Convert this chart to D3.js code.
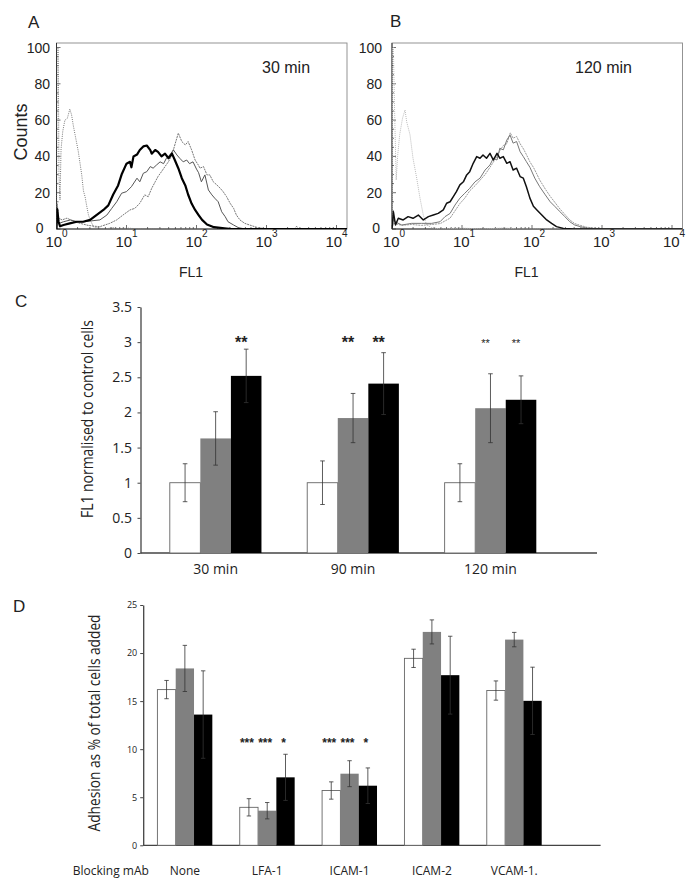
<!DOCTYPE html>
<html><head><meta charset="utf-8">
<script src="https://cdn.jsdelivr.net/npm/d3@7"></script>
<style>body{margin:0;background:#fff} svg{display:block;background:#fff}</style>
</head><body><svg id="c" width="695" height="887"></svg>
<script>
// ---------- Panel A / B : FACS histograms (x = log10 FL1, y = counts) ----------
const histYTicks = [0, 20, 40, 60, 80, 100];
const histXTicks = [0, 1, 2, 3, 4];

const aIsotype = [[0,0],[0.01,100],[0.025,100],[0.035,30],[0.05,16],[0.065,44],[0.09,54],[0.12,60],[0.155,61],[0.19,66],[0.215,63],[0.24,57],[0.265,52],[0.31,43],[0.36,30],[0.385,21],[0.41,17.5],[0.43,13],[0.455,8],[0.48,5],[0.53,1.2],[0.6,0.5],[0.7,0],[0.8,0.8],[0.9,0],[1.0,0.5],[1.2,0],[4.15,0]];
const aBlack = [[0,0],[0.01,11],[0.03,4],[0.05,1.5],[0.1,2.2],[0.19,3.1],[0.29,4],[0.38,4],[0.48,5],[0.57,7.7],[0.67,10.5],[0.74,13],[0.81,19],[0.88,24],[0.93,30],[1.0,36],[1.05,37],[1.07,34],[1.1,40],[1.15,41],[1.19,43.5],[1.24,45.5],[1.29,46],[1.34,43.5],[1.36,41.5],[1.41,43.5],[1.45,42.5],[1.5,40],[1.55,41.5],[1.6,39],[1.65,41.5],[1.69,38],[1.74,33.5],[1.79,28],[1.84,24],[1.88,19],[1.93,14],[1.98,10.5],[2.03,7.7],[2.08,5],[2.15,2.5],[2.25,1],[2.4,0.4],[2.5,0],[4.15,0]];
const aGray = [[0,0],[0.01,8],[0.03,3],[0.1,4],[0.2,5],[0.3,4],[0.4,4],[0.5,4.5],[0.62,5],[0.72,7.7],[0.79,11.4],[0.86,15],[0.93,19.7],[1.0,20.6],[1.07,23.3],[1.15,28],[1.19,26],[1.24,30.7],[1.29,31.6],[1.34,34.4],[1.38,33.5],[1.43,35.3],[1.48,37],[1.53,36],[1.57,39],[1.62,40.8],[1.67,43.6],[1.72,40.8],[1.76,39],[1.81,37],[1.86,38],[1.9,36],[1.95,37],[2.0,33],[2.03,31],[2.07,26],[2.12,29.8],[2.17,21.5],[2.22,18.8],[2.26,17],[2.31,15],[2.36,9.5],[2.41,6.8],[2.45,4],[2.53,2.2],[2.6,0.7],[2.7,0],[4.15,0]];
const aDashed = [[0,0],[0.01,14],[0.03,6],[0.08,5],[0.15,6],[0.25,4],[0.35,3],[0.45,2],[0.55,1.5],[0.62,1.3],[0.76,3.1],[0.86,5],[0.95,7.7],[1.05,10.5],[1.12,11.4],[1.19,14.2],[1.26,18.8],[1.31,17.8],[1.36,22.4],[1.41,26],[1.45,28.9],[1.5,31.6],[1.55,34.4],[1.6,37.1],[1.65,40.8],[1.69,46.3],[1.74,52.8],[1.79,48.2],[1.84,46.3],[1.88,48.2],[1.93,43.6],[1.98,38],[2.03,35],[2.05,33.5],[2.1,34.4],[2.15,29.8],[2.19,29.8],[2.24,26],[2.29,24.3],[2.34,22.4],[2.38,20.6],[2.43,17.8],[2.48,14.2],[2.53,11.4],[2.57,7.7],[2.62,5],[2.69,3.1],[2.79,1.8],[2.88,0.7],[3.0,0],[3.4,0],[3.43,1.5],[3.46,0],[4.15,0]];

const bIsotype = [[0,0],[0.005,100],[0.02,100],[0.04,60],[0.06,27],[0.08,40],[0.11,52],[0.15,61],[0.186,65.6],[0.21,59],[0.257,52],[0.3,39],[0.353,28],[0.4,17],[0.447,7.7],[0.495,2.2],[0.57,0.7],[0.7,0],[1.0,0.5],[1.3,0],[1.6,0.6],[1.8,0],[4.15,0]];
const bBlack = [[0,0],[0.02,9.5],[0.05,2.2],[0.09,5.9],[0.16,5],[0.23,6.8],[0.3,5.9],[0.376,7.7],[0.447,5],[0.52,6.8],[0.59,7.7],[0.66,8.6],[0.733,10.5],[0.78,14.2],[0.83,15],[0.876,17.8],[0.92,20.6],[0.97,24.3],[1.02,26],[1.067,29.8],[1.11,31.6],[1.16,36.2],[1.21,39.9],[1.257,39],[1.3,40.8],[1.35,39],[1.4,41.7],[1.447,38],[1.5,41.7],[1.54,39],[1.59,39.9],[1.64,36.2],[1.686,37.1],[1.73,32.5],[1.78,33.5],[1.83,28.9],[1.876,28],[1.92,23.3],[1.97,17],[2.02,12.5],[2.07,10.5],[2.14,7.7],[2.21,5],[2.28,3.1],[2.35,1.3],[2.45,0.3],[2.6,0],[4.15,0]];
const bGray = [[0,0],[0.02,5],[0.043,4],[0.14,2.2],[0.28,3.1],[0.42,3.1],[0.567,3.1],[0.686,4],[0.757,6.8],[0.83,8.6],[0.9,13.2],[0.97,17],[1.04,19.7],[1.11,22.4],[1.186,26],[1.257,28],[1.33,32.5],[1.4,35.3],[1.447,39],[1.5,38],[1.54,44.5],[1.59,43.6],[1.64,49],[1.686,51.8],[1.73,47.3],[1.78,48.2],[1.83,42.6],[1.876,39.9],[1.92,37.1],[1.97,34],[2.04,28],[2.11,23.3],[2.19,18.8],[2.26,15],[2.33,12.3],[2.4,9.5],[2.47,6.8],[2.54,4],[2.61,2.2],[2.69,1.3],[2.78,0.5],[2.9,0],[4.15,0]];
const bLight = [[0,0],[0.02,3],[0.043,3],[0.14,2],[0.28,2.5],[0.42,2],[0.57,2.5],[0.69,3],[0.76,4.5],[0.83,6],[0.9,10],[0.97,14],[1.04,17],[1.11,21],[1.19,24],[1.26,27],[1.33,30],[1.4,34],[1.45,37],[1.5,40],[1.54,43],[1.59,46],[1.64,47],[1.69,53],[1.73,50],[1.78,51],[1.83,47],[1.88,44],[1.92,41],[1.97,37],[2.02,34],[2.06,31],[2.11,27],[2.19,22],[2.26,18],[2.33,14.5],[2.4,11],[2.47,8],[2.54,5],[2.61,3],[2.69,2],[2.78,1],[2.9,0.5],[3.0,0],[4.15,0]];

// ---------- Panel C ----------
const cGroups = ["30 min", "90 min", "120 min"];
const cWhite = [1.0, 1.0, 1.0];
const cWhiteErr = [0.27, 0.31, 0.27];
const cGray = [1.63, 1.92, 2.06];
const cGrayErr = [0.38, 0.35, 0.49];
const cBlack = [2.52, 2.41, 2.18];
const cBlackErr = [0.38, 0.44, 0.34];
const cStars = [["", "", "**"], ["", "**", "**"], ["", "**", "**"]];
const cYTicks = [0, 0.5, 1, 1.5, 2, 2.5, 3, 3.5];

// ---------- Panel D ----------
const dGroups = ["None", "LFA-1", "ICAM-1", "ICAM-2", "VCAM-1."];
const dWhite = [16.2, 3.95, 5.7, 19.45, 16.1];
const dWhiteErr = [0.95, 0.9, 0.9, 0.95, 1.0];
const dGray = [18.4, 3.6, 7.45, 22.2, 21.4];
const dGrayErr = [2.4, 0.85, 1.35, 1.25, 0.75];
const dBlack = [13.6, 7.07, 6.2, 17.7, 15.03];
const dBlackErr = [4.55, 2.4, 1.85, 4.05, 3.5];
const dStars = [["", "", ""], ["***", "***", "*"], ["***", "***", "*"], ["", "", ""], ["", "", ""]];
const dYTicks = [0, 5, 10, 15, 20, 25];

const svg = d3.select("#c");
const SANS = "'Liberation Sans', Arial, sans-serif";
const OPEN = "'Open Sans', 'Noto Sans', sans-serif";

function letter(t, x, y) {
  svg.append("text").attr("x", x).attr("y", y).text(t)
    .attr("font-family", SANS).attr("font-size", 17).attr("fill", "#222");
}

function drawHist(cfg) {
  const g = svg.append("g");
  const xMax = 4.15;
  const x = d3.scaleLinear().domain([0, xMax]).range([cfg.left, cfg.left + 290.5]);
  const y = d3.scaleLinear().domain([0, 100]).range([229, 47.5]);
  const top = 43, bottom = 229;
  const id = "clip" + cfg.letter;
  svg.append("clipPath").attr("id", id).append("rect")
    .attr("x", x(0)).attr("y", top - 1).attr("width", x(xMax) - x(0)).attr("height", bottom - top + 1);

  g.append("rect").attr("x", x(0)).attr("y", top).attr("width", x(xMax) - x(0)).attr("height", bottom - top)
    .attr("fill", "none").attr("stroke", "#888").attr("stroke-width", 0.9);
  g.append("line").attr("x1", x(0)).attr("x2", x(0)).attr("y1", top).attr("y2", bottom).attr("stroke", "#333").attr("stroke-width", 1);
  g.append("line").attr("x1", x(0)).attr("x2", x(xMax)).attr("y1", bottom).attr("y2", bottom).attr("stroke", "#333").attr("stroke-width", 1);

  d3.range(0, 101, 5).forEach(v => {
    g.append("line").attr("x1", x(0)).attr("x2", x(0) + (v % 20 === 0 ? 4 : 2))
      .attr("y1", y(v)).attr("y2", y(v)).attr("stroke", "#333").attr("stroke-width", 0.7);
  });
  histYTicks.forEach(v => {
    g.append("text").attr("x", x(0) - (v === 0 ? cfg.zeroGap : cfg.yGap)).attr("y", y(v)).attr("dy", v === 0 ? "0.3em" : "0.36em")
      .attr("text-anchor", "end").attr("font-family", SANS).attr("font-size", 14).attr("fill", "#222").text(v);
  });
  for (let k = 0; k < 5; k++) {
    for (let m = 1; m <= 9; m++) {
      const e = k + Math.log10(m);
      if (e > xMax) continue;
      g.append("line").attr("x1", x(e)).attr("x2", x(e)).attr("y1", bottom).attr("y2", bottom - (m === 1 ? 4 : 2))
        .attr("stroke", "#333").attr("stroke-width", 0.7);
    }
  }
  histXTicks.forEach(k => {
    const t = g.append("text").attr("x", x(k) + cfg.xLabShift).attr("y", 246.5).attr("text-anchor", "middle")
      .attr("font-family", SANS).attr("font-size", 15).attr("fill", "#222");
    t.append("tspan").text("10");
    t.append("tspan").attr("dy", -10).attr("font-size", 10).text(k);
  });
  g.append("text").attr("x", cfg.left + 134.5).attr("y", 277).attr("text-anchor", "middle")
    .attr("font-family", SANS).attr("font-size", 14).attr("fill", "#222").text("FL1");
  g.append("text").attr("x", cfg.timeX).attr("y", 73)
    .attr("font-family", SANS).attr("font-size", 16).attr("fill", "#222").text(cfg.time);

  const line = d3.line().x(d => x(d[0])).y(d => y(d[1]));
  const cg = g.append("g").attr("clip-path", `url(#${id})`);
  cfg.curves.forEach(c => {
    cg.append("path").datum(c.data).attr("d", line).attr("fill", "none")
      .attr("stroke", c.color).attr("stroke-width", c.width)
      .attr("stroke-dasharray", c.dash || null).attr("stroke-linejoin", "round");
  });
}

letter("A", 28, 28);
drawHist({
  letter: "A", left: 56.5, yGap: 6.5, zeroGap: 13, xLabShift: 0, time: "30 min", timeX: 262,
  curves: [
    { data: aIsotype, color: "#777", width: 1, dash: "1,1.2" },
    { data: aDashed, color: "#777", width: 1, dash: "2,0.8" },
    { data: aGray, color: "#555", width: 1 },
    { data: aBlack, color: "#000", width: 2.2 }
  ]
});
svg.append("text").attr("transform", "translate(27,132) rotate(-90)").attr("text-anchor", "middle")
  .attr("font-family", SANS).attr("font-size", 18).attr("fill", "#222").text("Counts");

letter("B", 390, 27);
drawHist({
  letter: "B", left: 392, yGap: 10, zeroGap: 12, xLabShift: 2, time: "120 min", timeX: 575,
  curves: [
    { data: bIsotype, color: "#bbb", width: 1, dash: "1,1" },
    { data: bLight, color: "#999", width: 1, dash: "2,0.8" },
    { data: bGray, color: "#777", width: 1 },
    { data: bBlack, color: "#111", width: 1.5 }
  ]
});

function drawBars(cfg) {
  const g = svg.append("g");
  const series = ["white", "gray", "black"];
  const fills = { white: "#fff", gray: "#808080", black: "#000" };
  const x0 = d3.scaleBand().domain(cfg.groups).range(cfg.bandRange).paddingInner(0.333).paddingOuter(0);
  const x1 = d3.scaleBand().domain(series).range([0, x0.bandwidth()]);
  const y = d3.scaleLinear().domain(cfg.yDomain).range(cfg.yRange);

  const ax = g.append("g").attr("transform", `translate(${cfg.axisX},0)`)
    .call(d3.axisLeft(y).tickValues(cfg.yTicks).tickSize(3).tickSizeOuter(0).tickPadding(cfg.tickPad).tickFormat(d => String(d)));
  ax.select(".domain").attr("stroke", "#444").attr("stroke-width", 1.3);
  ax.selectAll(".tick line").attr("stroke", "#444");
  ax.selectAll("text").attr("font-family", OPEN).attr("font-size", cfg.tickFont).attr("fill", "#222");

  g.append("line").attr("x1", cfg.axisX).attr("x2", cfg.axisEnd).attr("y1", y(0)).attr("y2", y(0))
    .attr("stroke", "#444").attr("stroke-width", 1.3);

  series.forEach((s, si) => {
    const vals = cfg.values[si], errs = cfg.errs[si];
    cfg.groups.forEach((grp, gi) => {
      const bx = x0(grp) + x1(s), bw = x1.bandwidth(), cx = bx + bw / 2;
      g.append("rect").attr("x", bx).attr("y", y(vals[gi])).attr("width", bw).attr("height", y(0) - y(vals[gi]))
        .attr("fill", fills[s]).attr("stroke", s === "white" ? "#666" : fills[s]).attr("stroke-width", s === "white" ? 0.9 : 0);
      const hi = y(vals[gi] + errs[gi]), lo = y(vals[gi] - errs[gi]);
      const ec = "#333";
      g.append("line").attr("x1", cx).attr("x2", cx).attr("y1", hi).attr("y2", lo).attr("stroke", ec).attr("stroke-width", 0.8);
      [hi, lo].forEach(yy => g.append("line").attr("x1", cx - cfg.cap).attr("x2", cx + cfg.cap).attr("y1", yy).attr("y2", yy)
        .attr("stroke", ec).attr("stroke-width", 0.8));
      const st = cfg.stars[gi][si];
      if (st) {
        const sty = cfg.starStyle(gi);
        g.append("text").attr("x", cx + cfg.starShift).attr("y", sty.y).attr("text-anchor", "middle")
          .attr("font-family", SANS).attr("font-weight", sty.weight).attr("font-size", sty.size).attr("fill", "#222").text(st);
      }
    });
  });

  cfg.groups.forEach(grp => {
    g.append("text").attr("x", x0(grp) + x0.bandwidth() / 2).attr("y", cfg.labelY).attr("text-anchor", "middle")
      .attr("font-family", OPEN).attr("font-size", cfg.labelFont).attr("fill", "#222").text(grp);
  });

  g.append("text").attr("transform", `translate(${cfg.yLabelX},${cfg.yLabelY}) rotate(-90)`).attr("text-anchor", "middle")
    .attr("font-family", OPEN).attr("font-size", cfg.yLabelFont).attr("fill", "#222")
    .attr("textLength", cfg.yLabelLen).attr("lengthAdjust", "spacingAndGlyphs").text(cfg.yLabel);
}

letter("C", 15, 307);
drawBars({
  groups: cGroups, bandRange: [169.8, 536.3], yDomain: [0, 3.5], yRange: [553, 307],
  axisX: 140.5, axisEnd: 597, yTicks: cYTicks, tickPad: 5.5, tickFont: 14,
  values: [cWhite, cGray, cBlack], errs: [cWhiteErr, cGrayErr, cBlackErr], cap: 2.3,
  stars: cStars, starShift: -5,
  starStyle: gi => (gi === 2 ? { size: 11, weight: "normal", y: 347 } : { size: 16, weight: "bold", y: 348 }),
  labelY: 574, labelFont: 14,
  yLabel: "FL1 normalised to control cells", yLabelX: 93, yLabelY: 419, yLabelFont: 15.5, yLabelLen: 198
});

letter("D", 13, 612);
drawBars({
  groups: dGroups, bandRange: [157.4, 541.7], yDomain: [0, 25], yRange: [845.3, 605],
  axisX: 143.2, axisEnd: 600.6, yTicks: dYTicks, tickPad: 3, tickFont: 9,
  values: [dWhite, dGray, dBlack], errs: [dWhiteErr, dGrayErr, dBlackErr], cap: 2.2,
  stars: dStars, starShift: -2,
  starStyle: () => ({ size: 12, weight: "bold", y: 747 }),
  labelY: 875, labelFont: 12,
  yLabel: "Adhesion as % of total cells added", yLabelX: 99.5, yLabelY: 723, yLabelFont: 16.5, yLabelLen: 217
});
svg.append("text").attr("x", 110.8).attr("y", 875).attr("text-anchor", "middle")
  .attr("font-family", OPEN).attr("font-size", 12).attr("fill", "#222").text("Blocking mAb");
</script>
</body></html>
